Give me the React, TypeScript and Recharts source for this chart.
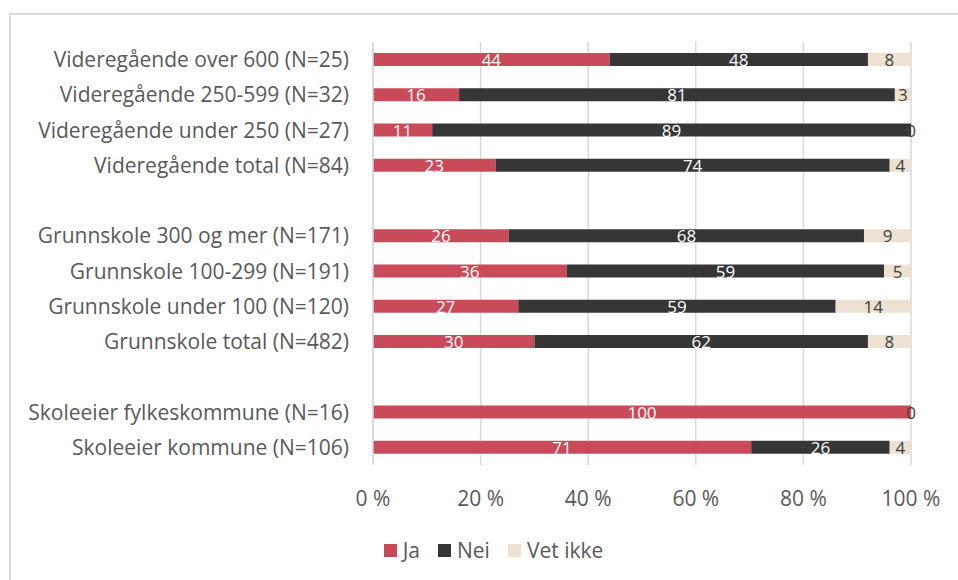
import { Bar, BarChart, CartesianGrid, LabelList, Legend, XAxis, YAxis } from "recharts";

const categories = [
  "Videregående over 600 (N=25)",
  "Videregående 250-599 (N=32)",
  "Videregående under 250 (N=27)",
  "Videregående total (N=84)",
  "",
  "Grunnskole 300 og mer (N=171)",
  "Grunnskole 100-299 (N=191)",
  "Grunnskole under 100 (N=120)",
  "Grunnskole total (N=482)",
  "",
  "Skoleeier fylkeskommune (N=16)",
  "Skoleeier kommune (N=106)",
];
const ja = [44, 16, 11, 23, null, 26, 36, 27, 30, null, 100, 71];
const nei = [48, 81, 89, 74, null, 68, 59, 59, 62, null, 0, 26];
const vetIkke = [8, 3, 0, 4, null, 9, 5, 14, 8, null, 0, 4];
const xTicks = [0, 0.2, 0.4, 0.6, 0.8, 1];

const data = categories.map((name, i) => ({
  row: i,
  name,
  ja: ja[i],
  nei: nei[i],
  vetIkke: vetIkke[i],
}));

const FONT = "'Open Sans', sans-serif";
const SERIES = [
  { key: "ja", name: "Ja", color: "#c94a59", text: "#ffffff", values: ja },
  { key: "nei", name: "Nei", color: "#363636", text: "#ffffff", values: nei },
  { key: "vetIkke", name: "Vet ikke", color: "#ede1d2", text: "#404040", values: vetIkke },
];

// recharts skips zero-width segments, so the last drawn segment also prints
// the trailing zero (Excel shows it at the 100 % end)
const makeLabel = (s: number) => (p: any) => {
  const i = p.value;
  if (typeof i !== "number") return null;
  const v = SERIES[s].values[i];
  if (v == null) return null;
  const cy = p.y + p.height / 2;
  const rest = SERIES.slice(s + 1);
  const trailingZero = rest.length > 0 && rest.every((r) => r.values[i] === 0);
  return (
    <g>
      {v !== 0 && (
        <text x={p.x + p.width / 2} y={cy} textAnchor="middle" dominantBaseline="central"
          fill={SERIES[s].text} fontSize={17} fontFamily={FONT}>
          {v}
        </text>
      )}
      {trailingZero && (
        <text x={p.x + p.width} y={cy} textAnchor="middle" dominantBaseline="central"
          fill="#404040" fontSize={17} fontFamily={FONT}>
          0
        </text>
      )}
    </g>
  );
};

const LegendBox = () => (
  <div style={{ display: "flex", justifyContent: "center", gap: 18, paddingLeft: 76, fontSize: 21, color: "#595959", fontFamily: FONT }}>
    {SERIES.map((s) => (
      <div key={s.key} style={{ display: "flex", alignItems: "center", gap: 6 }}>
        <span style={{ display: "inline-block", width: 13, height: 13, background: s.color }} />
        <span>{s.name}</span>
      </div>
    ))}
  </div>
);

export default function App() {
  return (
    <div style={{ position: "absolute", left: 0, top: 0, width: 958, height: 580, fontFamily: FONT, overflow: "hidden" }}>
      <div
        style={{
          position: "absolute",
          left: 9,
          top: 13,
          width: 1000,
          height: 600,
          borderTop: "2px solid #dcdcdc",
          borderLeft: "2px solid #dcdcdc",
        }}
      />
      <BarChart
        width={958}
        height={580}
        data={data}
        layout="vertical"
        stackOffset="expand"
        margin={{ top: 42, right: 47, left: 0, bottom: 16 }}
        barCategoryGap={11}
      >
        <CartesianGrid horizontal={false} stroke="#d9d9d9" strokeWidth={1.5} />
        <XAxis
          type="number"
          domain={[0, 1]}
          ticks={xTicks}
          tickFormatter={(v) => `${Math.round(v * 100)} %`}
          axisLine={false}
          tickLine={false}
          height={71}
          tickMargin={20}
          tick={{ fill: "#595959", fontSize: 21, fontFamily: FONT }}
        />
        <YAxis
          type="category"
          dataKey="name"
          width={373}
          axisLine={{ stroke: "#d9d9d9", strokeWidth: 1.5 }}
          tickLine={false}
          tickMargin={18}
          interval={0}
          tick={{ fill: "#595959", fontSize: 21, fontFamily: FONT }}
        />
        <Legend verticalAlign="bottom" content={<LegendBox />} />
        {SERIES.map((s, idx) => (
          <Bar key={s.key} dataKey={s.key} name={s.name} stackId="a" fill={s.color} isAnimationActive={false}>
            <LabelList
              valueAccessor={(e: any) => e?.payload?.row}
              content={makeLabel(idx)}
            />
          </Bar>
        ))}
      </BarChart>
    </div>
  );
}
